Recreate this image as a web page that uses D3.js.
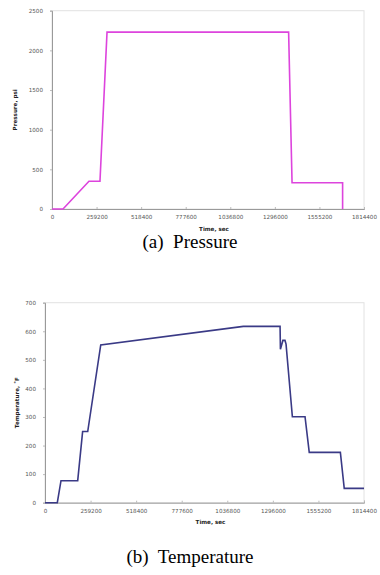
<!DOCTYPE html>
<html>
<head>
<meta charset="utf-8">
<script src="https://cdn.jsdelivr.net/npm/d3@7"></script>
<style>
  html, body { margin: 0; padding: 0; background: #fff; }
  svg { display: block; }
</style>
</head>
<body>
<script>
// time ticks shared by both panels (3 day steps)
const timeTicks = [0, 259200, 518400, 777600, 1036800, 1296000, 1555200, 1814400];

// (a) pressure
const pressureTime = [0, 64000, 215000, 279000, 320000, 1376000, 1396000, 1690000, 1690000];
const pressureValue = [0, 0, 350, 350, 2230, 2230, 330, 330, 0];
const pressureTicks = [0, 500, 1000, 1500, 2000, 2500];

// (b) temperature
const tempTime = [0, 70000, 91000, 186000, 214000, 243000, 317000, 1128000, 1337000, 1339000,
                  1353000, 1365000, 1371000, 1407000, 1479000, 1503000, 1680000, 1702000, 1814400];
const tempValue = [0, 0, 77, 77, 249, 249, 552, 617, 617, 537,
                   568, 568, 555, 301, 301, 176, 176, 50, 50];
const tempTicks = [0, 100, 200, 300, 400, 500, 600, 700];

const width = 380, height = 575;

const svg = d3.select("body")
    .append("svg")
    .attr("width", width)
    .attr("height", height);

function drawPanel(p) {
    const x = d3.scaleLinear().domain([0, 1814400]).range([p.left, p.right]);
    const y = d3.scaleLinear().domain([0, p.yMax]).range([p.bottom, p.top]);
    const g = svg.append("g");

    // plot frame (light top/right)
    g.append("rect")
        .attr("x", p.left).attr("y", p.top)
        .attr("width", p.right - p.left).attr("height", p.bottom - p.top)
        .attr("fill", "none").attr("stroke", "#e2e2e2").attr("stroke-width", 1);

    const xAxis = g.append("g")
        .attr("transform", `translate(0,${p.bottom})`)
        .call(d3.axisBottom(x).tickValues(timeTicks).tickSize(-2).tickPadding(6).tickFormat(d3.format("d")));
    const yAxis = g.append("g")
        .attr("transform", `translate(${p.left},0)`)
        .call(d3.axisLeft(y).tickValues(p.ticks).tickSize(2).tickPadding(7).tickFormat(d3.format("d")));

    [xAxis, yAxis].forEach(a => {
        a.select(".domain").attr("stroke", "#9a9a9a");
        a.selectAll(".tick line").attr("stroke", "#bbb");
        a.selectAll(".tick text")
            .attr("fill", "#555")
            .attr("font-family", "DejaVu Sans, sans-serif")
            .attr("font-size", "5.6px");
    });

    const line = d3.line()
        .x((d, i) => x(p.times[i]))
        .y(d => y(d));

    g.append("path")
        .datum(p.values)
        .attr("d", line)
        .attr("fill", "none")
        .attr("stroke", p.color)
        .attr("stroke-width", 1.6)
        .attr("stroke-linejoin", "miter");

    g.append("text")
        .attr("x", (p.left + p.right) / 2 + 6)
        .attr("y", p.bottom + 21.5)
        .attr("text-anchor", "middle")
        .attr("font-family", "DejaVu Sans, sans-serif")
        .attr("font-weight", "bold")
        .attr("font-size", "5.6px")
        .attr("fill", "#222")
        .text("Time, sec");

    g.append("text")
        .attr("transform", `translate(${p.yLabelX},${(p.top + p.bottom) / 2}) rotate(-90)`)
        .attr("text-anchor", "middle")
        .attr("font-family", "DejaVu Sans, sans-serif")
        .attr("font-weight", "bold")
        .attr("font-size", "5.6px")
        .attr("fill", "#222")
        .text(p.yLabel);

    svg.append("text")
        .attr("x", width / 2)
        .attr("y", p.captionY)
        .attr("text-anchor", "middle")
        .attr("font-family", "Liberation Serif, Times New Roman, serif")
        .attr("font-size", "19px")
        .attr("fill", "#000")
        .attr("xml:space", "preserve")
        .style("white-space", "pre")
        .text(p.caption);
}

drawPanel({
    left: 52, right: 364, top: 10.7, bottom: 209,
    yMax: 2500, ticks: pressureTicks,
    times: pressureTime, values: pressureValue,
    color: "#dd44dd",
    yLabel: "Pressure, psi", yLabelX: 17,
    caption: "(a)  Pressure", captionY: 248
});

drawPanel({
    left: 45, right: 364, top: 302.7, bottom: 502.7,
    yMax: 700, ticks: tempTicks,
    times: tempTime, values: tempValue,
    color: "#3a3a86",
    yLabel: "Temperature,  \u02DAF", yLabelX: 19,
    caption: "(b)  Temperature", captionY: 563
});
</script>
</body>
</html>
